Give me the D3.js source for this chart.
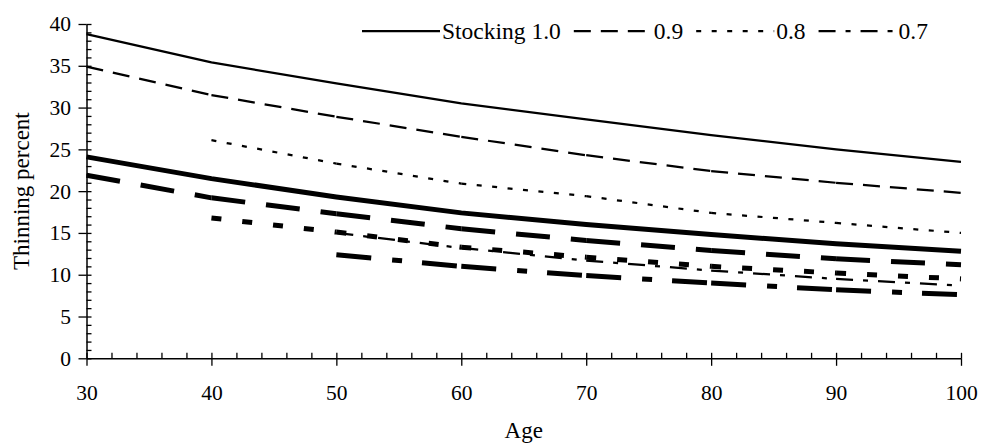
<!DOCTYPE html>
<html><head><meta charset="utf-8">
<script src="https://cdn.jsdelivr.net/npm/d3@7"></script>
<style>
html,body{margin:0;padding:0;background:#fff;}
svg{display:block;}
text{font-family:"Liberation Serif","Times New Roman",serif;fill:#000;}
</style></head><body>
<svg id="chart" width="981" height="444"></svg>
<script>
// ---- data ----
const ages = [30, 40, 50, 60, 70, 80, 90, 100];
const stockingLabels = ["Stocking 1.0", "0.9", "0.8", "0.7"];
// upper (thin) group
const thin10 = [38.8, 35.4, 32.9, 30.5, 28.6, 26.7, 25.0, 23.5];
const thin09 = [34.9, 31.5, 28.9, 26.5, 24.3, 22.4, 21.0, 19.8];
const thin08 = [null, 26.1, 23.3, 20.9, 19.4, 17.4, 16.2, 15.0];
const thin07 = [null, null, 15.0, 13.2, 11.7, 10.5, 9.5, 8.7];
// lower (thick) group
const thick10 = [24.1, 21.5, 19.3, 17.4, 16.0, 14.8, 13.7, 12.8];
const thick09 = [21.9, 19.2, 17.3, 15.5, 14.1, 12.9, 11.9, 11.2];
const thick08 = [null, 16.8, 15.1, 13.3, 12.1, 11.0, 10.2, 9.5];
const thick07 = [null, null, 12.4, 11.0, 9.9, 9.0, 8.2, 7.6];
const xTicks = [30, 40, 50, 60, 70, 80, 90, 100];
const yTicks = [0, 5, 10, 15, 20, 25, 30, 35, 40];
const xTitle = "Age";
const yTitle = "Thinning percent";

// ---- styles ----
const thinDash = ["", "17,10", "5,10.5", "17,10,5,10"];
const thickDash = ["", "34,21", "10,21", "35,21,10,20"];
const thinW = 2.25, thickW = 5;

const svg = d3.select("#chart");
const x = d3.scaleLinear().domain([30, 100]).range([86.5, 961]);
const y = d3.scaleLinear().domain([0, 40]).range([358.3, 24]);

// axes
const yAxis = svg.append("g").attr("transform", "translate(86.5,0)")
  .call(d3.axisLeft(y).tickValues(yTicks).tickSizeInner(8).tickSizeOuter(0).tickPadding(7.5).tickFormat(d3.format("d")));
const yMinor = svg.append("g").attr("transform", "translate(86.5,0)")
  .call(d3.axisRight(y).tickValues(d3.range(0, 41, 1)).tickSize(5).tickFormat(""));
yMinor.select(".domain").remove();

const xAxis = svg.append("g").attr("transform", "translate(0,358.3)")
  .call(d3.axisBottom(x).tickValues(xTicks).tickSizeInner(7.5).tickSizeOuter(0).tickPadding(19).tickFormat(d3.format("d")));
const xMinor = svg.append("g").attr("transform", "translate(0,358.3)")
  .call(d3.axisTop(x).tickValues(d3.range(30, 101, 2)).tickSize(5.5).tickFormat(""));
xMinor.select(".domain").remove();

svg.selectAll(".domain").attr("stroke", "#000").attr("stroke-width", 1.5);
svg.selectAll(".tick line").attr("stroke", "#000").attr("stroke-width", 1.3);
svg.selectAll(".tick text").attr("font-family", "Liberation Serif").attr("font-size", 21.5).attr("fill", "#000");

// titles
svg.append("text").attr("x", (x(30) + x(100)) / 2).attr("y", 438)
  .attr("text-anchor", "middle").attr("font-size", 23).text(xTitle);
svg.append("text").attr("transform", `translate(29,${(y(0) + y(40)) / 2}) rotate(-90)`)
  .attr("text-anchor", "middle").attr("font-size", 23).text(yTitle);

// lines
const line = d3.line().x(d => x(d[0])).y(d => y(d[1]));
function drawSeries(vals, dash, w) {
  const pts = ages.map((a, i) => [a, vals[i]]).filter(p => p[1] != null);
  const g = svg.append("g");
  if (!dash) {
    g.append("path").attr("d", line(pts)).attr("fill", "none").attr("stroke", "#000")
      .attr("stroke-width", w).attr("stroke-linejoin", "round");
  } else {
    for (let i = 0; i < pts.length - 1; i++) {
      g.append("path").attr("d", line([pts[i], pts[i + 1]])).attr("fill", "none")
        .attr("stroke", "#000").attr("stroke-width", w).attr("stroke-dasharray", dash);
    }
  }
}
[thin10, thin09, thin08, thin07].forEach((s, i) => drawSeries(s, thinDash[i], thinW));
[thick10, thick09, thick08, thick07].forEach((s, i) => drawSeries(s, thickDash[i], thickW));

// legend
const leg = svg.append("g");
let lx = 362;
const ly = 31;
stockingLabels.forEach((lab, i) => {
  leg.append("line").attr("x1", lx).attr("x2", lx + 78).attr("y1", ly).attr("y2", ly)
    .attr("stroke", "#000").attr("stroke-width", thinW)
    .attr("stroke-dasharray", thinDash[i] || null);
  const t = leg.append("text").attr("x", lx + 80).attr("y", ly).attr("dy", "0.34em")
    .attr("font-size", 23.5).text(lab);
  lx = lx + 80 + t.node().getComputedTextLength() + 13;
});
</script>
</body></html>
